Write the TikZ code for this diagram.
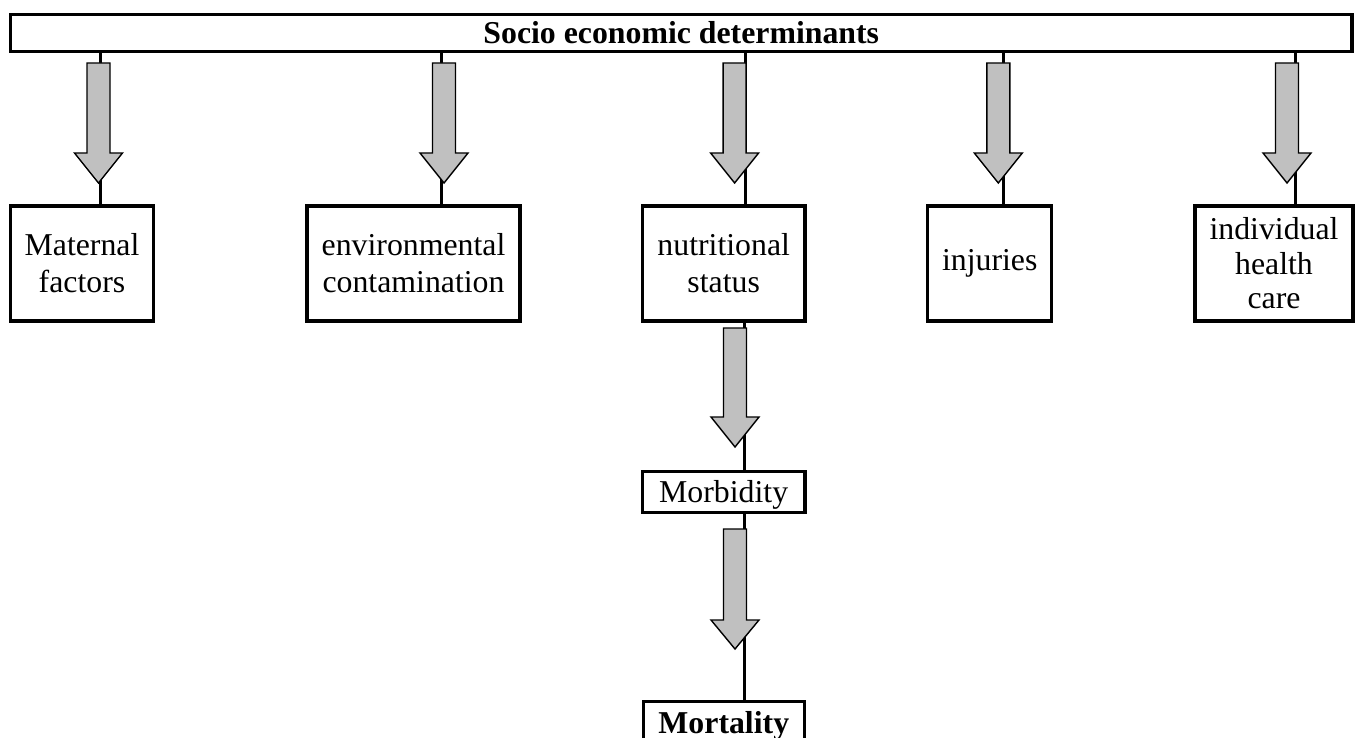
\documentclass[tikz,border=0pt]{standalone}
\usepackage{fontspec}
\setmainfont{Liberation Serif}
\definecolor{arrowgray}{RGB}{192,192,192}
\tikzset{
  box/.style={draw, line width=3.3pt, inner sep=0pt, align=center, fill=white,
              font=\fontsize{31.8}{37}\selectfont},
  conn/.style={line width=3pt},
  fatarrow/.style={draw, line width=1.4pt, fill=arrowgray, line join=miter},
}
\newcommand\blockarrow[4]{% centre x, top y, head start y, tip y
  \draw[fatarrow] ({#1-11.5},{#2}) -- ({#1+11.5},{#2}) -- ({#1+11.5},{#3}) -- ({#1+24},{#3})
    -- ({#1},{#4}) -- ({#1-24},{#3}) -- ({#1-11.5},{#3}) -- cycle;}
\begin{document}
\begin{tikzpicture}[x=1pt, y=-1pt]
  \useasboundingbox (0,0) rectangle (1362,738);
  \clip (0,0) rectangle (1362,738);

  % nodes
  \node[box, minimum width=1341.5, minimum height=37.4] (top) at (681.25,33) {\bfseries Socio economic determinants};
  \node[box, minimum width=143, minimum height=115] (mat) at (82,263.5) {Maternal\\factors};
  \node[box, minimum width=213, minimum height=115] (env) at (413.5,263.5) {environmental\\contamination};
  \node[box, minimum width=162.7, minimum height=115] (nut) at (723.7,263.5) {nutritional\\status};
  \node[box, minimum width=124, minimum height=115] (inj) at (989.7,263.5) {injuries};
  \node[box, minimum width=158, minimum height=115, font=\fontsize{31.8}{34.5}\selectfont] (ind) at (1274,263.5) {individual\\health\\care};
  \node[box, minimum width=162.7, text height=31, text depth=10] (morb) at (723.7,492.2) {Morbidity};
  \node[box, minimum width=161, text height=31.6, text depth=20, anchor=north] (mort) at (723.8,700) {\bfseries Mortality};

  % connector x positions
  \coordinate (l1) at (100,0);
  \coordinate (l2) at (441,0);
  \coordinate (l3) at (745,0);
  \coordinate (l4) at (1003,0);
  \coordinate (l5) at (1295,0);
  \coordinate (l6) at (744,0);

  % connectors
  \draw[conn] (top.south -| l1) -- (mat.north -| l1);
  \draw[conn] (top.south -| l2) -- (env.north -| l2);
  \draw[conn] (top.south -| l3) -- (nut.north -| l3);
  \draw[conn] (top.south -| l4) -- (inj.north -| l4);
  \draw[conn] (top.south -| l5) -- (ind.north -| l5);
  \draw[conn] (nut.south -| l6) -- (morb.north -| l6);
  \draw[conn] (morb.south -| l6) -- (mort.north -| l6);

  % block arrows
  \blockarrow{98.5}{63}{153}{183}
  \blockarrow{444}{63}{153}{183}
  \blockarrow{734.6}{63}{153}{183}
  \blockarrow{998.3}{63}{153}{183}
  \blockarrow{1287}{63}{153}{183}
  \blockarrow{735}{328}{417}{447}
  \blockarrow{735}{529}{620}{649}
\end{tikzpicture}
\end{document}
